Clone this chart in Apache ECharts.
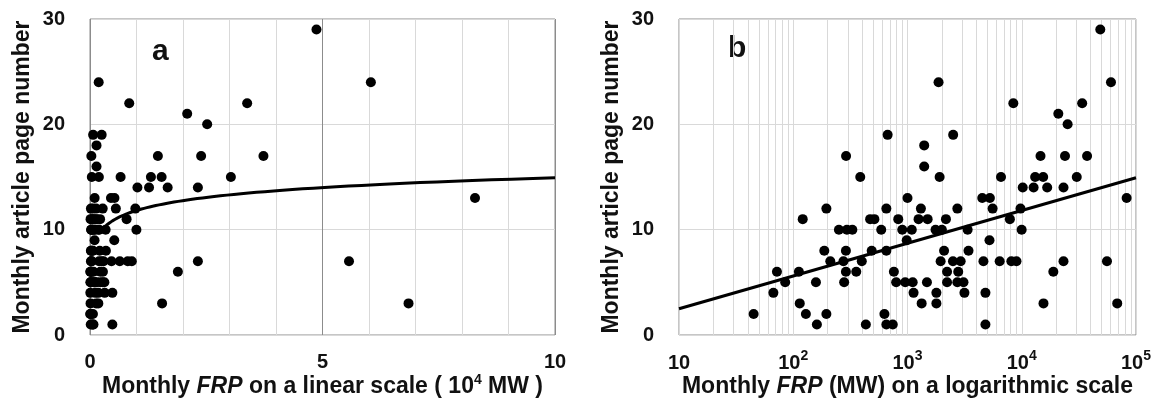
<!DOCTYPE html>
<html>
<head>
<meta charset="utf-8">
<script src="https://cdn.jsdelivr.net/npm/echarts/dist/echarts.min.js"></script>
<style>
  html, body { margin: 0; padding: 0; background: #fff; }
  #chart { width: 1163px; height: 411px; }
</style>
</head>
<body>
<div id="chart"></div>
<script>
// monthly FRP (MW) and the article page number of the same month
const frpMW = [
  48700,
  1870, 60400,
  8440, 33800,
  20900,
  25200,
  670, 2510,
  1400,
  290, 14600, 23900, 37300,
  1400,
  386, 1910, 6580, 13100, 15400, 30300,
  10200, 12700, 16700, 23200,
  1000, 4510, 5260, 82800,
  195, 653, 1310, 2730, 5560, 9750,
  121, 471, 513, 830, 1250, 1500, 2170, 7870,
  251, 295, 329, 589, 900, 1090, 1760, 2000, 3360, 9980,
  984, 5220,
  187, 289, 486, 653, 2090, 3420,
  211, 275, 398, 1950, 2500, 2920, 4620, 6410, 8110, 8990, 23200, 55700,
  72, 112, 289, 356, 760, 2220, 2780, 18900,
  85, 158, 279, 796, 955, 1110, 1480, 2220, 2730, 3090,
  67, 1130, 1790, 3150, 4810,
  114, 1330, 1790, 15500, 68500,
  45, 129, 195, 628,
  161, 432, 653, 743, 4810
]
const pageNumbers = [
  29,
  24, 24,
  22, 22,
  21,
  20,
  19, 19,
  18,
  17, 17, 17, 17,
  16,
  15, 15, 15, 15, 15, 15,
  14, 14, 14, 14,
  13, 13, 13, 13,
  12, 12, 12, 12, 12, 12,
  11, 11, 11, 11, 11, 11, 11, 11,
  10, 10, 10, 10, 10, 10, 10, 10, 10, 10,
  9, 9,
  8, 8, 8, 8, 8, 8,
  7, 7, 7, 7, 7, 7, 7, 7, 7, 7, 7, 7,
  6, 6, 6, 6, 6, 6, 6, 6,
  5, 5, 5, 5, 5, 5, 5, 5, 5, 5,
  4, 4, 4, 4, 4,
  3, 3, 3, 3, 3,
  2, 2, 2, 2,
  1, 1, 1, 1, 1
]
// log trend line: page = trendA + trendB * log10(FRP in MW)
const trendA = -0.62
const trendB = 3.11
const linearTicks = [0, 5, 10]     // 10^4 MW
const logRange = [10, 100000]      // MW
const pageRange = [0, 30]

const FONT = '"Liberation Sans", Arial, sans-serif'
const TXT = '#111'
const LIGHT = '#d9d9d9'

const linearPoints = frpMW.map((v, i) => [v / 1e4, pageNumbers[i]])
const logPoints = frpMW.map((v, i) => [v, pageNumbers[i]])

// trend curve on the linear panel (from the fitted coefficients)
const linearTrend = []
for (let i = 0; i <= 80; i++) {
  const x = 0.2 * Math.pow(linearTicks[2] / 0.2, i / 80)
  linearTrend.push([x, trendA + trendB * Math.log10(x * 1e4)])
}
const logTrend = logRange.map(x => [x, trendA + trendB * Math.log10(x)])

// minor log grid lines at 2..9 x 10^n
const minorLogLines = []
for (let d = logRange[0]; d < logRange[1]; d *= 10) {
  for (let k = 2; k <= 9; k++) minorLogLines.push({ xAxis: k * d })
}

const labelStyle = { fontFamily: FONT, fontWeight: 'bold', fontSize: 20, color: TXT }
const titleStyle = { fontFamily: FONT, fontWeight: 'bold', fontSize: 23, color: TXT }
// axis titles, with a raised exponent where needed
const nameRich = {
  n: Object.assign({}, titleStyle, { lineHeight: 28 }),
  i: Object.assign({}, titleStyle, { fontStyle: 'italic', lineHeight: 28 }),
  s: { fontFamily: FONT, fontWeight: 'bold', fontSize: 14, color: TXT, verticalAlign: 'top', lineHeight: 14 }
}

function yAxisFor(gridIndex) {
  return {
    type: 'value',
    gridIndex: gridIndex,
    min: pageRange[0],
    max: pageRange[1],
    interval: 10,
    axisLine: { show: false },
    axisTick: { show: false },
    axisLabel: Object.assign({ margin: 25 }, labelStyle),
    splitLine: { lineStyle: { color: LIGHT, width: 1 } },
    name: 'Monthly article page number',
    nameLocation: 'middle',
    nameGap: 56,
    nameMoveOverlap: false,
    nameTextStyle: titleStyle
  }
}

const options = {
  backgroundColor: '#fff',
  animation: false,
  grid: [
    { left: 90, right: 608, top: 19, bottom: 76, show: true, borderColor: '#8c8c8c', borderWidth: 1 },
    { left: 679, right: 27, top: 19, bottom: 76, show: true, borderColor: '#8c8c8c', borderWidth: 1 }
  ],
  xAxis: [
    {
      type: 'value',
      gridIndex: 0,
      min: linearTicks[0],
      max: linearTicks[2],
      interval: 5,
      axisLine: { show: false },
      axisTick: { show: false },
      axisLabel: Object.assign({ margin: 17 }, labelStyle),
      splitLine: { lineStyle: { color: '#8c8c8c', width: 1 } },
      minorTick: { show: false, splitNumber: 5 },
      minorSplitLine: { show: true, lineStyle: { color: LIGHT, width: 1 } },
      name: '{n|Monthly }{i|FRP}{n| on a linear scale ( 10}{s|4}{n| MW )}',
      nameLocation: 'middle',
      nameGap: 38,
      nameMoveOverlap: false,
      nameTextStyle: { rich: nameRich }
    },
    {
      type: 'log',
      gridIndex: 1,
      logBase: 10,
      min: logRange[0],
      max: logRange[1],
      axisLine: { show: false },
      axisTick: { show: false },
      axisLabel: {
        margin: 14,
        formatter: v => {
          const e = Math.round(Math.log10(v))
          return e === 1 ? '{b|10}' : '{b|10}{s|' + e + '}'
        },
        rich: {
          b: { fontFamily: FONT, fontWeight: 'bold', fontSize: 20, color: TXT, lineHeight: 28 },
          s: { fontFamily: FONT, fontWeight: 'bold', fontSize: 14, color: TXT, verticalAlign: 'top', lineHeight: 14 }
        }
      },
      splitLine: { lineStyle: { color: LIGHT, width: 1 } },
      name: '{n|Monthly }{i|FRP}{n| (MW) on a logarithmic scale}',
      nameLocation: 'middle',
      nameGap: 38,
      nameMoveOverlap: false,
      nameTextStyle: { rich: nameRich }
    }
  ],
  yAxis: [yAxisFor(0), yAxisFor(1)],
  graphic: [
    { type: 'text', x: 152, y: 52, style: { text: 'a', font: 'bold 30px ' + FONT, fill: TXT, verticalAlign: 'middle' } },
    { type: 'text', x: 728, y: 49, style: { text: 'b', font: 'bold 30px ' + FONT, fill: TXT, verticalAlign: 'middle' } }
  ],
  series: [
    {
      type: 'line',
      xAxisIndex: 1,
      yAxisIndex: 1,
      data: [],
      silent: true,
      z: 1,
      markLine: {
        silent: true,
        z: 1,
        symbol: 'none',
        label: { show: false },
        emphasis: { disabled: true },
        lineStyle: { color: LIGHT, width: 1, type: 'solid' },
        data: minorLogLines
      }
    },
    {
      type: 'scatter',
      xAxisIndex: 0,
      yAxisIndex: 0,
      symbolSize: 10,
      itemStyle: { color: '#000', opacity: 1 },
      data: linearPoints,
      z: 3
    },
    {
      type: 'line',
      xAxisIndex: 0,
      yAxisIndex: 0,
      showSymbol: false,
      lineStyle: { color: '#000', width: 3 },
      data: linearTrend,
      z: 4
    },
    {
      type: 'scatter',
      xAxisIndex: 1,
      yAxisIndex: 1,
      symbolSize: 10,
      itemStyle: { color: '#000', opacity: 1 },
      data: logPoints,
      z: 3
    },
    {
      type: 'line',
      xAxisIndex: 1,
      yAxisIndex: 1,
      showSymbol: false,
      lineStyle: { color: '#000', width: 3 },
      data: logTrend,
      z: 4
    }
  ]
}

const chart = echarts.init(document.getElementById('chart'), null, { renderer: 'canvas' })
chart.setOption(options)
window.addEventListener('resize', () => {
  chart.resize()
})
</script>
</body>
</html>
